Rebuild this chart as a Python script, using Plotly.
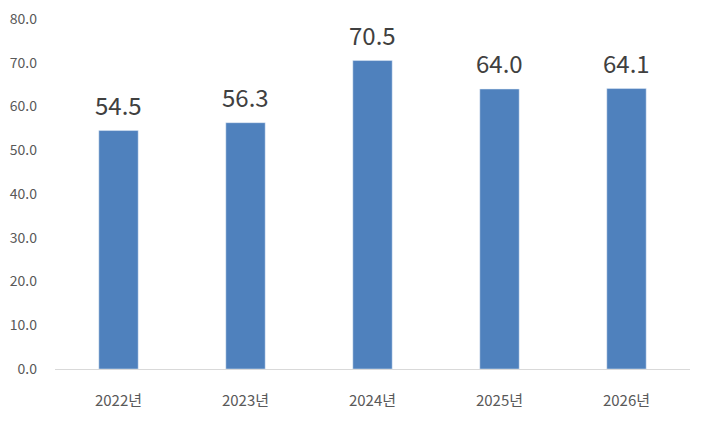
import plotly.graph_objects as go

years = ['2022년', '2023년', '2024년', '2025년', '2026년']
values = [54.5, 56.3, 70.5, 64.0, 64.1]
y_ticks = [0, 10, 20, 30, 40, 50, 60, 70, 80]

fig = go.Figure()
fig.add_trace(go.Bar(
    x=years,
    y=values,
    marker_color='#4F81BD',
))

# value labels sit a bit higher above the bars than plotly's own outside text
for yr, v in zip(years, values):
    fig.add_annotation(
        x=yr, y=v, text=f'{v:.1f}',
        showarrow=False, yanchor='bottom', yshift=7,
        font=dict(size=24, color='#404040'),
    )

# the page body has an 8px default margin, so the margins are shifted by it
fig.update_layout(
    width=702,
    height=423,
    margin=dict(l=47, r=20, t=11, b=62),
    paper_bgcolor='white',
    plot_bgcolor='white',
    bargap=0.69,
    showlegend=False,
    font=dict(family='Noto Sans CJK KR, sans-serif', color='#595959', size=14),
    xaxis=dict(
        automargin=False,
        showline=True,
        linecolor='#D9D9D9',
        linewidth=1,
        ticks='',
        ticklabelstandoff=18,
        tickfont=dict(size=15, color='#595959'),
    ),
    yaxis=dict(
        automargin=False,
        range=[0, 80],
        tickvals=y_ticks,
        ticktext=[f'{t:.1f}' for t in y_ticks],
        showgrid=False,
        zeroline=False,
        showline=False,
        ticks='',
        ticklabelstandoff=17,
        ticklabeloverflow='allow',
        tickfont=dict(size=14, color='#595959'),
    ),
)

fig.write_html("out.html")
